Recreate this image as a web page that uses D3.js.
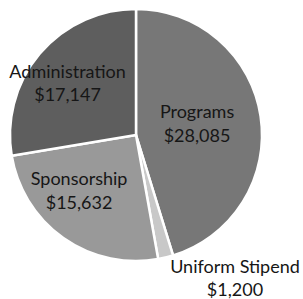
<!DOCTYPE html>
<html>
<head>
<meta charset="utf-8">
<script src="https://cdn.jsdelivr.net/npm/d3@7"></script>
<style>
  body { margin: 0; background: #fff; }
  svg text { font-family: Lato, "Open Sans", sans-serif; fill: #161616; }
</style>
</head>
<body>
<div class="pie"></div>
<script>
// chart values
var categories = ["Programs", "Uniform Stipend", "Sponsorship", "Administration"];
var amounts = [28085, 1200, 15632, 17147];
var valueLabels = ["$28,085", "$1,200", "$15,632", "$17,147"];
var sliceColors = ["#777777", "#c8c8c8", "#999999", "#5e5e5e"];

var svgWidth = 303;
var svgHeight = 299;
var cx = 136, cy = 135, radius = 126;

var svg = d3.select(".pie")
  .append("svg")
  .attr("width", svgWidth)
  .attr("height", svgHeight);

var chartGroup = svg.append("g")
  .attr("transform", `translate(${cx}, ${cy})`);

var data = categories.map((c, i) => ({ name: c, amount: amounts[i], label: valueLabels[i], color: sliceColors[i] }));

var pie = d3.pie()
  .value(d => d.amount)
  .sort(null);

var arc = d3.arc()
  .innerRadius(0)
  .outerRadius(radius);

var arcs = pie(data);

chartGroup.selectAll("path")
  .data(arcs)
  .enter()
  .append("path")
  .attr("d", arc)
  .attr("fill", d => d.data.color)
  .attr("stroke", "#fff")
  .attr("stroke-width", 2.5)
  .attr("stroke-linejoin", "round");

// label placement: inside slices at a fraction of the radius, small slice outside
var labelRadius = [0.49, 1.18, 0.66, 0.66];
var nudge = [[0, -4], [64, -3], [-9, -14], [-5, 0]];

var labelGroup = chartGroup.append("g");

arcs.forEach(function(d, i) {
  var r = radius * labelRadius[i];
  var pos = d3.arc().innerRadius(r).outerRadius(r).centroid(d);
  var x = pos[0] + nudge[i][0];
  var y = pos[1] + nudge[i][1];
  var t = labelGroup.append("text")
    .attr("x", x)
    .attr("y", y)
    .attr("text-anchor", "middle")
    .attr("font-size", 18);
  t.append("tspan")
    .attr("x", x)
    .attr("dy", "-0.2em")
    .text(d.data.name);
  t.append("tspan")
    .attr("x", x)
    .attr("dy", "1.3em")
    .text(d.data.label);
});
</script>
</body>
</html>
